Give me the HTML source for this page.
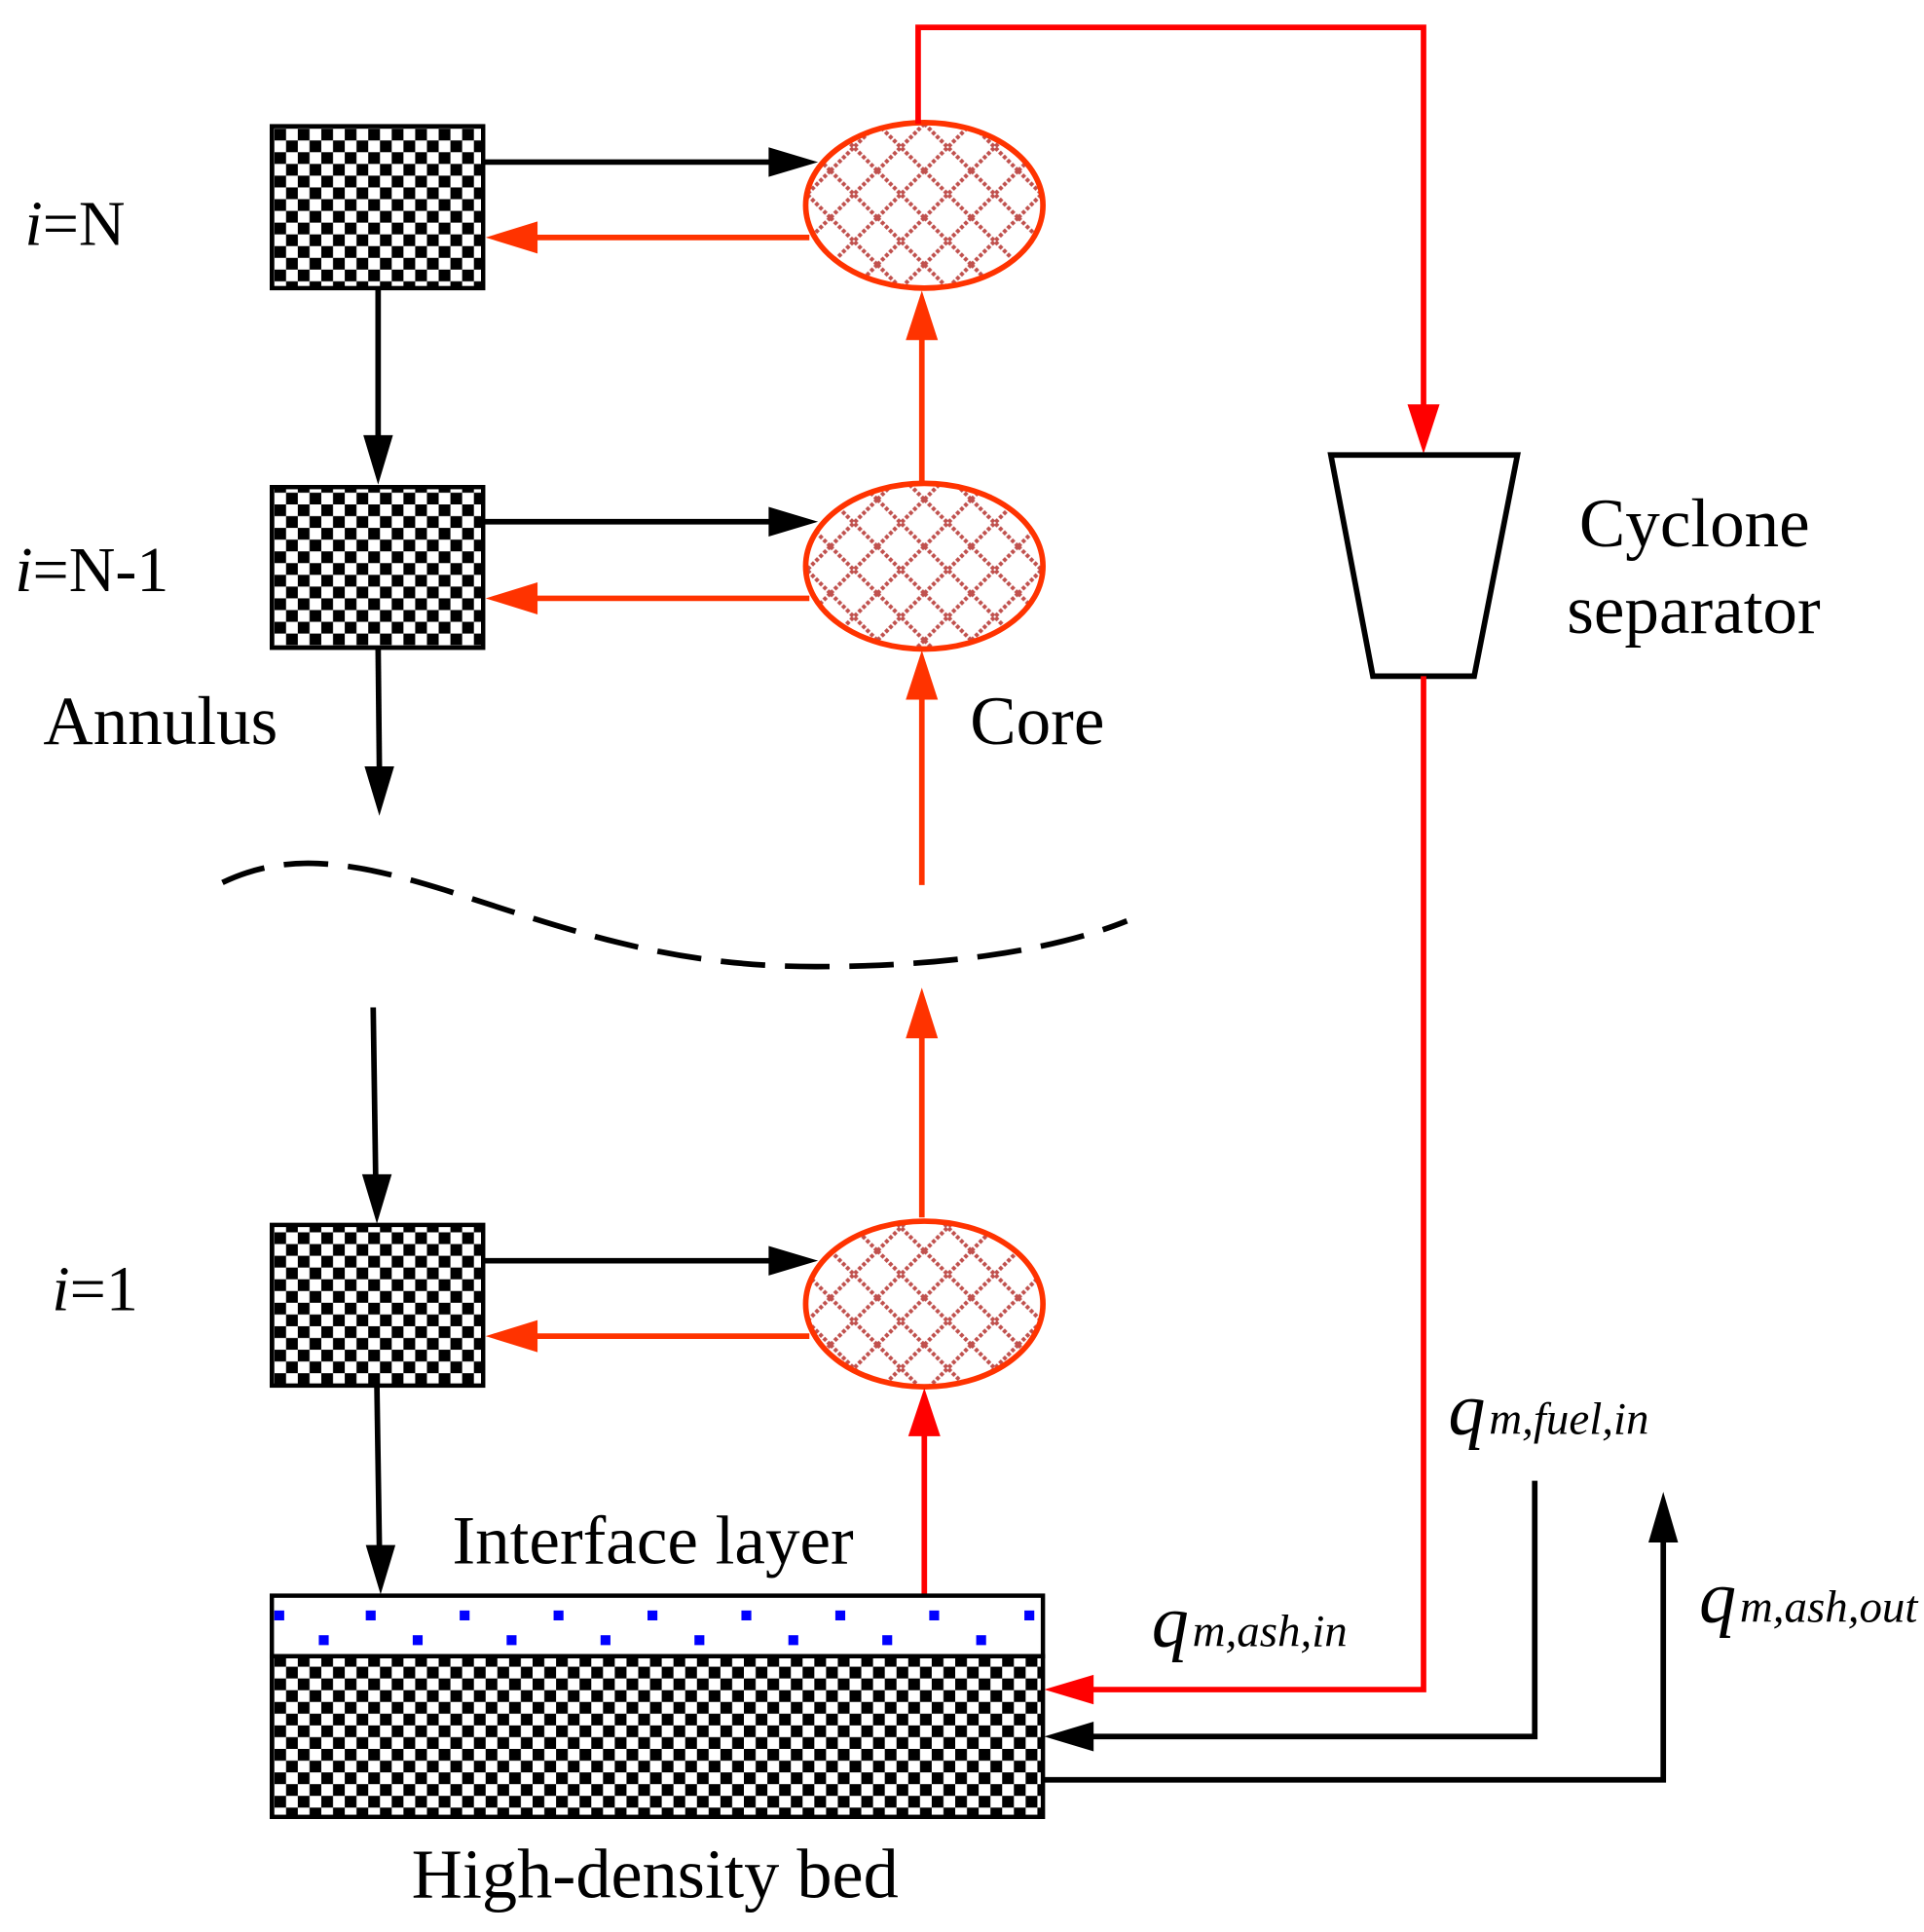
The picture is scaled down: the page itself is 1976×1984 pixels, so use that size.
<!DOCTYPE html>
<html><head><meta charset="utf-8"><style>
html,body{margin:0;padding:0;background:#fff;}
svg{display:block;}
text{font-family:"Liberation Serif",serif;fill:#000;}
</style></head><body>
<svg width="1976" height="1984" viewBox="0 0 1557 1563" xmlns="http://www.w3.org/2000/svg">
<defs>
<pattern id="chk" x="222" y="104" width="19" height="19" patternUnits="userSpaceOnUse">
<rect width="19" height="19" fill="#fff"/>
<rect x="0" y="0" width="9.5" height="9.5" fill="#000"/>
<rect x="9.5" y="9.5" width="9.5" height="9.5" fill="#000"/>
</pattern>
<pattern id="hatch" x="748" y="100" width="38" height="38" patternUnits="userSpaceOnUse">
<rect width="38" height="38" fill="#fff"/>
<path d="M0,0 L38,38 M38,0 L0,38" stroke="#c0504d" stroke-width="3.2" stroke-dasharray="3 1.6"/>
</pattern>
</defs>

<rect x="220" y="102" width="171" height="131" fill="url(#chk)" stroke="#000" stroke-width="3.5"/>
<rect x="220" y="394" width="171" height="130" fill="url(#chk)" stroke="#000" stroke-width="3.5"/>
<rect x="220" y="991" width="171" height="130" fill="url(#chk)" stroke="#000" stroke-width="3.5"/>

<ellipse cx="748" cy="166" rx="96" ry="67" fill="url(#hatch)" stroke="#ff3300" stroke-width="4.5"/>
<ellipse cx="748" cy="458" rx="96" ry="67" fill="url(#hatch)" stroke="#ff3300" stroke-width="4.5"/>
<ellipse cx="748" cy="1055" rx="96" ry="67" fill="url(#hatch)" stroke="#ff3300" stroke-width="4.5"/>

<g stroke="#000" stroke-width="4.5" fill="none">
<line x1="391" y1="131" x2="625" y2="131"/>
<line x1="391" y1="422" x2="625" y2="422"/>
<line x1="391" y1="1020" x2="625" y2="1020"/>
<line x1="306" y1="233" x2="306" y2="355"/>
<line x1="306" y1="524" x2="307" y2="622"/>
<line x1="302" y1="815" x2="304" y2="952"/>
<line x1="305" y1="1121" x2="307" y2="1252"/>
</g>
<g fill="#000">
<path d="M662,131 L622,119 L622,143Z"/>
<path d="M662,422 L622,410 L622,434Z"/>
<path d="M662,1020 L622,1008 L622,1032Z"/>
<path d="M306,392 L294,352 L318,352Z"/>
<path d="M307,660 L295,620 L319,620Z"/>
<path d="M305,990 L293,950 L317,950Z"/>
<path d="M308,1290 L296,1250 L320,1250Z"/>
</g>

<g stroke="#ff3300" stroke-width="4.5">
<line x1="655" y1="192" x2="430" y2="192"/>
<line x1="655" y1="484" x2="430" y2="484"/>
<line x1="655" y1="1081" x2="430" y2="1081"/>
<line x1="746" y1="390" x2="746" y2="272"/>
<line x1="746" y1="716" x2="746" y2="563"/>
<line x1="746" y1="985" x2="746" y2="836"/>
</g>
<g fill="#ff3300">
<path d="M393,192 L435,179 L435,205Z"/>
<path d="M393,484 L435,471 L435,497Z"/>
<path d="M393,1081 L435,1068 L435,1094Z"/>
<path d="M746,235 L733,275 L759,275Z"/>
<path d="M746,526 L733,566 L759,566Z"/>
<path d="M746,799 L733,840 L759,840Z"/>
</g>
<line x1="748" y1="1290" x2="748" y2="1160" stroke="#ff0000" stroke-width="4.5"/>
<path d="M748,1123 L735,1162 L761,1162Z" fill="#ff0000"/>

<polyline points="743,100 743,22 1152,22 1152,330" fill="none" stroke="#ff0000" stroke-width="4.5"/>
<path d="M1152,367 L1139,327 L1165,327Z" fill="#ff0000"/>

<polygon points="1077,368 1228,368 1193,547 1111,547" fill="#fff" stroke="#000" stroke-width="4.5"/>

<polyline points="1152,547 1152,1367 882,1367" fill="none" stroke="#ff0000" stroke-width="4.5"/>
<path d="M845,1367 L885,1355 L885,1379Z" fill="#ff0000"/>

<polyline points="1242,1198 1242,1405 882,1405" fill="none" stroke="#000" stroke-width="4.5"/>
<path d="M845,1405 L885,1393 L885,1417Z" fill="#000"/>
<polyline points="845,1440 1346,1440 1346,1245" fill="none" stroke="#000" stroke-width="4.5"/>
<path d="M1346,1207 L1334,1248 L1358,1248Z" fill="#000"/>

<rect x="220" y="1291" width="624" height="49" fill="#fff" stroke="#000" stroke-width="3.5"/>
<rect x="220" y="1340" width="624" height="130" fill="url(#chk)" stroke="#000" stroke-width="3.5"/>
<g fill="#0000ff">
<rect x="222" y="1303" width="8" height="8"/><rect x="296" y="1303" width="8" height="8"/><rect x="372" y="1303" width="8" height="8"/><rect x="448" y="1303" width="8" height="8"/><rect x="524" y="1303" width="8" height="8"/><rect x="600" y="1303" width="8" height="8"/><rect x="676" y="1303" width="8" height="8"/><rect x="752" y="1303" width="8" height="8"/><rect x="829" y="1303" width="8" height="8"/>
<rect x="258" y="1323" width="8" height="8"/><rect x="334" y="1323" width="8" height="8"/><rect x="410" y="1323" width="8" height="8"/><rect x="486" y="1323" width="8" height="8"/><rect x="562" y="1323" width="8" height="8"/><rect x="638" y="1323" width="8" height="8"/><rect x="714" y="1323" width="8" height="8"/><rect x="790" y="1323" width="8" height="8"/>
</g>

<path d="M180,714 C230,690 280,695 360,720 C460,752 540,782 660,782 C760,782 850,770 912,745" fill="none" stroke="#000" stroke-width="4.5" stroke-dasharray="36 16"/>

<text x="20" y="198" font-size="52"><tspan font-style="italic">i</tspan>=N</text>
<text x="12" y="478" font-size="52"><tspan font-style="italic">i</tspan>=N-1</text>
<text x="35" y="602" font-size="56">Annulus</text>
<text x="785" y="602" font-size="56">Core</text>
<text x="1278" y="442" font-size="56">Cyclone</text>
<text x="1268" y="512" font-size="56">separator</text>
<text x="42" y="1060" font-size="52"><tspan font-style="italic">i</tspan>=1</text>
<text x="366" y="1265" font-size="56">Interface layer</text>
<text x="333" y="1535" font-size="57">High-density bed</text>
<text x="1172" y="1160" font-style="italic"><tspan font-size="60">q</tspan><tspan font-size="37" dx="3">m,fuel,in</tspan></text>
<text x="932" y="1332" font-style="italic"><tspan font-size="60">q</tspan><tspan font-size="37" dx="3">m,ash,in</tspan></text>
<text x="1375" y="1312" font-style="italic"><tspan font-size="60">q</tspan><tspan font-size="37" dx="3">m,ash,out</tspan></text>
</svg>
</body></html>
